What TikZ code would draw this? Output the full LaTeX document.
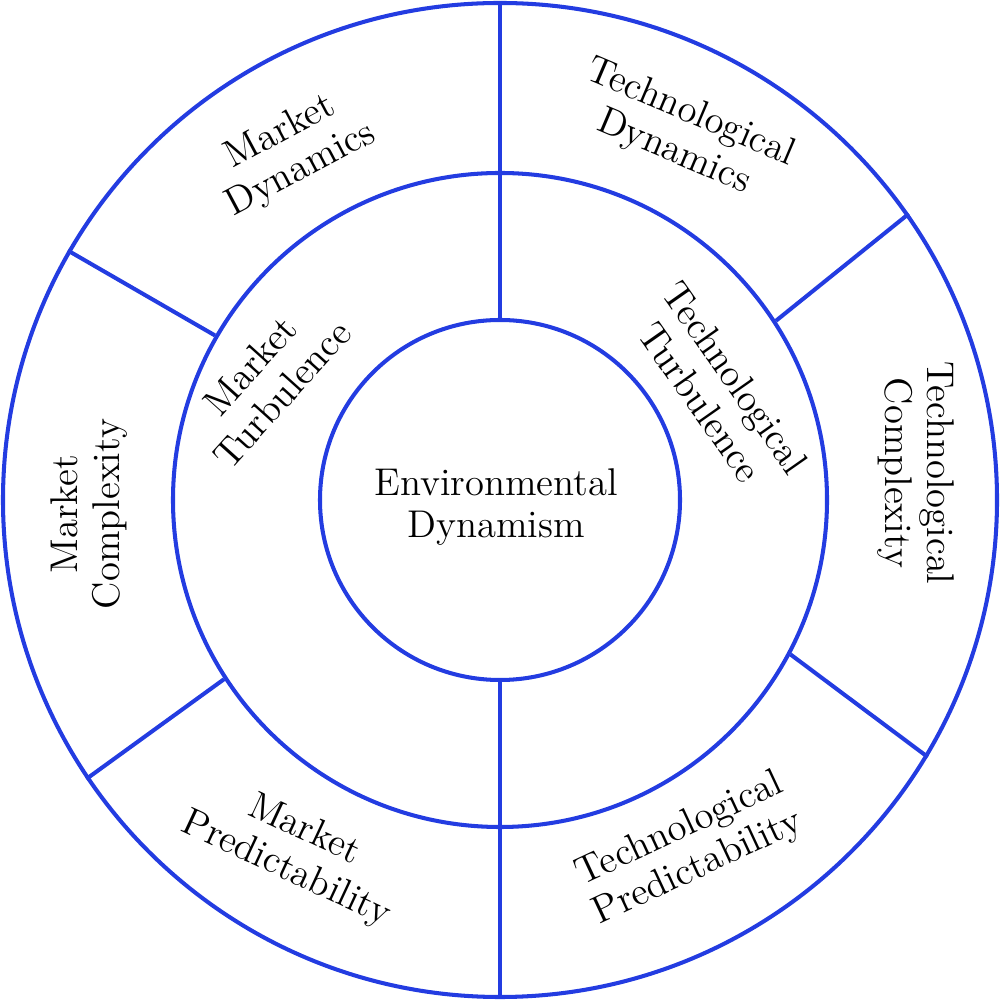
\documentclass[tikz,border=0pt]{standalone}
\usetikzlibrary{positioning}
\definecolor{ringblue}{RGB}{35,60,225}

\begin{document}
\begin{tikzpicture}[semithick,
            ring/.style ={circle, draw=ringblue, line width=1.15pt, inner sep=0pt},
            divider/.style ={draw=ringblue, line width=1.15pt},
            sector/.style ={align=center, inner sep=0pt, text=black,
            font=\fontsize{11}{12.2}\selectfont}]

        \useasboundingbox (-5,-5) rectangle (5,5);

        %anillos
        \node[ring, minimum size=9.94cm] (outer) at (0, 0) {};
        \node[ring, minimum size=6.54cm] (middle) at (0, 0) {};
        \node[ring, minimum size=3.60cm] (inner) at (0, 0) {};

        \path[divider] (outer.90) -- (inner.90);
        \path[divider] (inner.270) -- (outer.270);
        \path[divider] (outer.150.4) -- (middle.150.2);
        \path[divider] (outer.214.8) -- (middle.213.3);
        \path[divider] (outer.35.3) -- (middle.33.5);
        \path[divider] (outer.-31.9) -- (middle.-28.4);

        \node[sector] (core) at (-0.04, -0.07) {Environmental\\Dynamism};

        \node[sector, rotate=48] (mturb) at (-2.34, 1.20) {Market\\Turbulence};
        \node[sector, rotate=-55] (tturb) at (2.18, 1.10) {Technological\\Turbulence};

        \node[sector, rotate=28] (mdyn) at (-2.09, 3.49) {Market\\Dynamics};
        \node[sector, rotate=-23] (tdyn) at (1.82, 3.67) {Technological\\Dynamics};
        \node[sector, rotate=90] (mcomp) at (-4.11, -0.14) {Market\\Complexity};
        \node[sector, rotate=-90] (tcomp) at (4.16, 0.27) {Technological\\Complexity};
        \node[sector, rotate=-25] (mpred) at (-2.05, -3.50) {Market\\Predictability};
        \node[sector, rotate=25] (tpred) at (1.89, -3.49) {Technological\\Predictability};

    \end{tikzpicture}
\end{document}
